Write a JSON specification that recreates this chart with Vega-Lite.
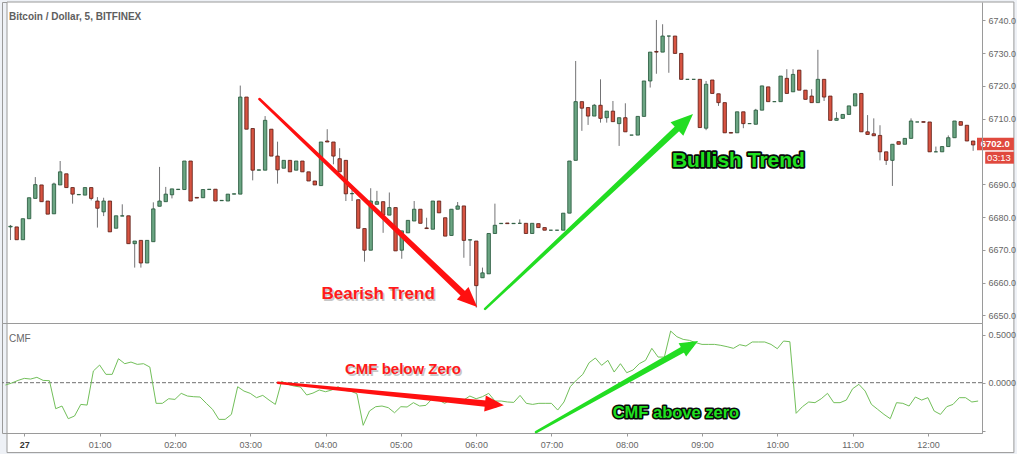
{
  "$schema": "https://vega.github.io/schema/vega-lite/v6.json",
  "background": "#eef1f6",
  "padding": {"left": 1, "top": 1, "right": 0, "bottom": 0},
  "bounds": "flush",
  "spacing": 0,
  "config": {
    "view": {"stroke": "#9a9a9a", "strokeWidth": 1},
    "font": "Liberation Sans",
    "text": {"font": "Liberation Sans"}
  },
  "datasets": {
    "bars": [
      {"t":-15,"o":6677.0,"h":6677.6,"l":6673.0,"c":6677.2,"cmf":-0.024},
      {"t":-10,"o":6677.0,"h":6677.0,"l":6673.1,"c":6673.1,"cmf":-0.003},
      {"t":-5,"o":6673.1,"h":6679.5,"l":6673.1,"c":6679.5,"cmf":0.024},
      {"t":0,"o":6679.5,"h":6685.9,"l":6679.5,"c":6685.9,"cmf":0.045},
      {"t":5,"o":6685.7,"h":6692.2,"l":6685.7,"c":6689.9,"cmf":0.038},
      {"t":10,"o":6689.8,"h":6689.8,"l":6684.7,"c":6684.7,"cmf":0.056},
      {"t":15,"o":6684.9,"h":6684.9,"l":6680.9,"c":6680.9,"cmf":0.024},
      {"t":20,"o":6681.0,"h":6690.5,"l":6681.0,"c":6690.1,"cmf":0.021},
      {"t":25,"o":6689.8,"h":6697.1,"l":6689.8,"c":6693.8,"cmf":-0.271},
      {"t":30,"o":6693.2,"h":6693.2,"l":6689.0,"c":6689.0,"cmf":-0.243},
      {"t":35,"o":6689.0,"h":6689.0,"l":6684.1,"c":6687.0,"cmf":-0.375},
      {"t":40,"o":6686.8,"h":6686.9,"l":6686.8,"c":6686.9,"cmf":-0.347},
      {"t":45,"o":6686.7,"h":6689.0,"l":6686.7,"c":6689.0,"cmf":-0.226},
      {"t":50,"o":6689.0,"h":6689.0,"l":6685.1,"c":6685.7,"cmf":-0.233},
      {"t":55,"o":6684.9,"h":6686.1,"l":6676.8,"c":6682.7,"cmf":0.122},
      {"t":60,"o":6681.6,"h":6685.9,"l":6680.3,"c":6684.9,"cmf":0.184},
      {"t":65,"o":6684.9,"h":6684.9,"l":6675.5,"c":6675.5,"cmf":0.087},
      {"t":70,"o":6676.6,"h":6680.4,"l":6676.6,"c":6680.4,"cmf":0.087},
      {"t":75,"o":6680.3,"h":6683.9,"l":6680.3,"c":6680.4,"cmf":0.250},
      {"t":80,"o":6680.4,"h":6680.4,"l":6671.9,"c":6671.9,"cmf":0.198},
      {"t":85,"o":6671.9,"h":6672.7,"l":6664.6,"c":6672.7,"cmf":0.215},
      {"t":90,"o":6672.9,"h":6672.9,"l":6664.6,"c":6666.0,"cmf":0.191},
      {"t":95,"o":6666.0,"h":6672.9,"l":6666.0,"c":6672.9,"cmf":0.198},
      {"t":100,"o":6672.5,"h":6684.5,"l":6672.5,"c":6682.5,"cmf":0.163},
      {"t":105,"o":6683.3,"h":6695.3,"l":6683.3,"c":6684.9,"cmf":-0.215},
      {"t":110,"o":6684.7,"h":6689.2,"l":6684.7,"c":6687.0,"cmf":-0.215},
      {"t":115,"o":6686.8,"h":6688.6,"l":6685.7,"c":6688.6,"cmf":-0.167},
      {"t":120,"o":6688.4,"h":6688.5,"l":6688.4,"c":6688.5,"cmf":-0.174},
      {"t":125,"o":6688.4,"h":6697.1,"l":6688.4,"c":6697.1,"cmf":-0.111},
      {"t":130,"o":6697.1,"h":6697.1,"l":6684.9,"c":6684.9,"cmf":-0.139},
      {"t":135,"o":6686.0,"h":6686.0,"l":6685.8,"c":6685.8,"cmf":-0.146},
      {"t":140,"o":6685.9,"h":6688.4,"l":6685.9,"c":6688.4,"cmf":-0.149},
      {"t":145,"o":6688.4,"h":6688.5,"l":6688.4,"c":6688.5,"cmf":-0.215},
      {"t":150,"o":6688.5,"h":6688.5,"l":6684.9,"c":6684.9,"cmf":-0.278},
      {"t":155,"o":6685.0,"h":6685.1,"l":6685.0,"c":6685.1,"cmf":-0.382},
      {"t":160,"o":6684.9,"h":6687.0,"l":6684.9,"c":6687.0,"cmf":-0.382},
      {"t":165,"o":6687.0,"h":6687.1,"l":6687.0,"c":6687.1,"cmf":-0.330},
      {"t":170,"o":6687.0,"h":6720.1,"l":6687.0,"c":6716.6,"cmf":-0.042},
      {"t":175,"o":6716.6,"h":6716.6,"l":6706.8,"c":6706.8,"cmf":-0.087},
      {"t":180,"o":6707.0,"h":6707.0,"l":6691.2,"c":6694.3,"cmf":-0.111},
      {"t":185,"o":6694.3,"h":6694.4,"l":6694.3,"c":6694.4,"cmf":-0.156},
      {"t":190,"o":6694.3,"h":6710.8,"l":6694.3,"c":6709.5,"cmf":-0.132},
      {"t":195,"o":6706.8,"h":6706.8,"l":6698.6,"c":6698.6,"cmf":-0.181},
      {"t":200,"o":6698.6,"h":6703.0,"l":6690.2,"c":6694.4,"cmf":-0.226},
      {"t":205,"o":6694.9,"h":6697.3,"l":6694.9,"c":6697.3,"cmf":0.014},
      {"t":210,"o":6697.3,"h":6697.3,"l":6693.8,"c":6693.8,"cmf":-0.017},
      {"t":215,"o":6694.3,"h":6697.1,"l":6694.3,"c":6697.1,"cmf":-0.035},
      {"t":220,"o":6697.1,"h":6697.1,"l":6693.8,"c":6693.8,"cmf":-0.045},
      {"t":225,"o":6693.8,"h":6693.8,"l":6691.0,"c":6691.0,"cmf":-0.128},
      {"t":230,"o":6691.0,"h":6691.0,"l":6689.8,"c":6689.8,"cmf":-0.108},
      {"t":235,"o":6689.6,"h":6702.9,"l":6689.6,"c":6702.9,"cmf":-0.076},
      {"t":240,"o":6703.2,"h":6706.8,"l":6702.9,"c":6702.9,"cmf":-0.094},
      {"t":245,"o":6702.9,"h":6702.9,"l":6696.1,"c":6698.6,"cmf":-0.076},
      {"t":250,"o":6697.8,"h":6701.0,"l":6693.8,"c":6693.8,"cmf":-0.042},
      {"t":255,"o":6697.3,"h":6697.3,"l":6684.9,"c":6687.1,"cmf":-0.080},
      {"t":260,"o":6687.1,"h":6689.0,"l":6684.9,"c":6687.2,"cmf":-0.087},
      {"t":265,"o":6685.3,"h":6685.3,"l":6676.6,"c":6676.6,"cmf":-0.115},
      {"t":270,"o":6676.5,"h":6676.5,"l":6666.4,"c":6669.9,"cmf":-0.444},
      {"t":275,"o":6669.9,"h":6688.8,"l":6669.9,"c":6684.9,"cmf":-0.295},
      {"t":280,"o":6683.9,"h":6688.0,"l":6683.9,"c":6684.7,"cmf":-0.250},
      {"t":285,"o":6684.7,"h":6684.7,"l":6675.2,"c":6680.6,"cmf":-0.243},
      {"t":290,"o":6680.6,"h":6687.5,"l":6680.6,"c":6682.9,"cmf":-0.260},
      {"t":295,"o":6682.9,"h":6682.9,"l":6669.7,"c":6669.7,"cmf":-0.313},
      {"t":300,"o":6669.9,"h":6675.8,"l":6667.3,"c":6675.8,"cmf":-0.250},
      {"t":305,"o":6675.2,"h":6679.0,"l":6675.2,"c":6679.0,"cmf":-0.253},
      {"t":310,"o":6678.8,"h":6684.9,"l":6678.8,"c":6682.4,"cmf":-0.208},
      {"t":315,"o":6682.4,"h":6682.4,"l":6678.1,"c":6678.1,"cmf":-0.243},
      {"t":320,"o":6676.7,"h":6679.8,"l":6676.5,"c":6676.5,"cmf":-0.236},
      {"t":325,"o":6676.3,"h":6684.9,"l":6676.3,"c":6684.9,"cmf":-0.167},
      {"t":330,"o":6684.9,"h":6684.9,"l":6681.3,"c":6681.3,"cmf":-0.181},
      {"t":335,"o":6679.8,"h":6679.8,"l":6674.2,"c":6674.2,"cmf":-0.215},
      {"t":340,"o":6674.4,"h":6682.4,"l":6674.4,"c":6682.4,"cmf":-0.174},
      {"t":345,"o":6682.4,"h":6684.6,"l":6682.4,"c":6683.4,"cmf":-0.201},
      {"t":350,"o":6683.4,"h":6683.4,"l":6667.6,"c":6672.9,"cmf":-0.181},
      {"t":355,"o":6673.0,"h":6673.1,"l":6665.1,"c":6673.1,"cmf":-0.139},
      {"t":360,"o":6672.7,"h":6672.7,"l":6652.4,"c":6659.1,"cmf":-0.167},
      {"t":365,"o":6661.5,"h":6664.6,"l":6661.5,"c":6663.0,"cmf":-0.146},
      {"t":370,"o":6662.7,"h":6675.0,"l":6662.7,"c":6675.0,"cmf":-0.111},
      {"t":375,"o":6675.0,"h":6684.1,"l":6675.0,"c":6677.5,"cmf":-0.191},
      {"t":380,"o":6678.0,"h":6678.1,"l":6678.0,"c":6678.1,"cmf":-0.191},
      {"t":385,"o":6678.2,"h":6678.2,"l":6678.0,"c":6678.0,"cmf":-0.201},
      {"t":390,"o":6678.0,"h":6678.1,"l":6678.0,"c":6678.1,"cmf":-0.205},
      {"t":395,"o":6678.1,"h":6679.3,"l":6678.1,"c":6678.1,"cmf":-0.132},
      {"t":400,"o":6678.1,"h":6678.1,"l":6675.0,"c":6675.0,"cmf":-0.215},
      {"t":405,"o":6675.0,"h":6678.1,"l":6675.0,"c":6678.1,"cmf":-0.226},
      {"t":410,"o":6678.0,"h":6678.0,"l":6676.8,"c":6676.8,"cmf":-0.215},
      {"t":415,"o":6676.8,"h":6676.8,"l":6676.0,"c":6676.0,"cmf":-0.215},
      {"t":420,"o":6676.0,"h":6676.0,"l":6676.0,"c":6676.0,"cmf":-0.215},
      {"t":425,"o":6676.0,"h":6676.0,"l":6676.0,"c":6676.0,"cmf":-0.285},
      {"t":430,"o":6676.0,"h":6681.2,"l":6676.0,"c":6681.2,"cmf":-0.201},
      {"t":435,"o":6681.2,"h":6697.1,"l":6681.2,"c":6697.1,"cmf":-0.042},
      {"t":440,"o":6697.3,"h":6727.6,"l":6697.3,"c":6715.2,"cmf":0.028},
      {"t":445,"o":6715.2,"h":6715.2,"l":6706.3,"c":6713.2,"cmf":0.087},
      {"t":450,"o":6713.4,"h":6713.4,"l":6708.1,"c":6710.8,"cmf":0.208},
      {"t":455,"o":6710.8,"h":6714.5,"l":6710.8,"c":6714.1,"cmf":0.257},
      {"t":460,"o":6714.1,"h":6722.0,"l":6708.8,"c":6710.1,"cmf":0.181},
      {"t":465,"o":6710.3,"h":6712.3,"l":6708.8,"c":6712.3,"cmf":0.233},
      {"t":470,"o":6712.3,"h":6715.4,"l":6709.1,"c":6709.1,"cmf":0.111},
      {"t":475,"o":6708.5,"h":6710.3,"l":6701.7,"c":6710.3,"cmf":0.198},
      {"t":480,"o":6710.3,"h":6714.7,"l":6706.0,"c":6706.0,"cmf":0.104},
      {"t":485,"o":6705.0,"h":6705.0,"l":6705.0,"c":6705.0,"cmf":0.132},
      {"t":490,"o":6705.0,"h":6710.7,"l":6705.0,"c":6710.7,"cmf":0.198},
      {"t":495,"o":6710.7,"h":6721.5,"l":6710.7,"c":6721.5,"cmf":0.233},
      {"t":500,"o":6721.5,"h":6730.3,"l":6719.5,"c":6730.3,"cmf":0.358},
      {"t":505,"o":6730.5,"h":6740.1,"l":6723.7,"c":6730.3,"cmf":0.267},
      {"t":510,"o":6730.3,"h":6738.8,"l":6730.3,"c":6735.2,"cmf":0.267},
      {"t":515,"o":6735.2,"h":6735.2,"l":6724.0,"c":6735.2,"cmf":0.538},
      {"t":520,"o":6735.2,"h":6735.2,"l":6729.9,"c":6729.9,"cmf":0.479},
      {"t":525,"o":6729.9,"h":6729.9,"l":6722.0,"c":6722.0,"cmf":0.451},
      {"t":530,"o":6722.0,"h":6722.0,"l":6722.0,"c":6722.0,"cmf":0.441},
      {"t":535,"o":6722.0,"h":6722.0,"l":6722.0,"c":6722.0,"cmf":0.417},
      {"t":540,"o":6722.0,"h":6722.0,"l":6707.3,"c":6707.3,"cmf":0.399},
      {"t":545,"o":6707.1,"h":6721.5,"l":6706.5,"c":6720.5,"cmf":0.399},
      {"t":550,"o":6721.8,"h":6721.8,"l":6717.7,"c":6717.7,"cmf":0.399},
      {"t":555,"o":6717.6,"h":6717.6,"l":6713.9,"c":6714.9,"cmf":0.389},
      {"t":560,"o":6714.9,"h":6714.9,"l":6705.7,"c":6705.7,"cmf":0.375},
      {"t":565,"o":6705.8,"h":6705.8,"l":6705.6,"c":6705.6,"cmf":0.358},
      {"t":570,"o":6705.7,"h":6712.1,"l":6705.7,"c":6712.1,"cmf":0.396},
      {"t":575,"o":6712.1,"h":6712.1,"l":6707.1,"c":6708.5,"cmf":0.382},
      {"t":580,"o":6708.5,"h":6708.5,"l":6708.5,"c":6708.5,"cmf":0.424},
      {"t":585,"o":6708.3,"h":6713.0,"l":6708.3,"c":6712.6,"cmf":0.424},
      {"t":590,"o":6712.6,"h":6720.0,"l":6712.6,"c":6720.0,"cmf":0.424},
      {"t":595,"o":6719.7,"h":6719.7,"l":6715.2,"c":6715.2,"cmf":0.399},
      {"t":600,"o":6715.2,"h":6715.2,"l":6715.2,"c":6715.2,"cmf":0.354},
      {"t":605,"o":6715.2,"h":6723.0,"l":6715.2,"c":6723.0,"cmf":0.434},
      {"t":610,"o":6722.3,"h":6725.1,"l":6717.7,"c":6717.7,"cmf":0.427},
      {"t":615,"o":6718.2,"h":6725.1,"l":6718.2,"c":6723.5,"cmf":-0.319},
      {"t":620,"o":6724.8,"h":6724.8,"l":6718.7,"c":6718.7,"cmf":-0.250},
      {"t":625,"o":6718.7,"h":6718.7,"l":6715.9,"c":6715.9,"cmf":-0.201},
      {"t":630,"o":6716.9,"h":6719.0,"l":6714.9,"c":6714.9,"cmf":-0.208},
      {"t":635,"o":6714.9,"h":6731.0,"l":6714.9,"c":6722.0,"cmf":-0.167},
      {"t":640,"o":6722.0,"h":6722.0,"l":6715.4,"c":6716.6,"cmf":-0.111},
      {"t":645,"o":6716.9,"h":6716.9,"l":6709.5,"c":6709.5,"cmf":-0.208},
      {"t":650,"o":6709.5,"h":6712.0,"l":6709.5,"c":6710.1,"cmf":-0.208},
      {"t":655,"o":6710.1,"h":6711.3,"l":6710.1,"c":6711.3,"cmf":-0.181},
      {"t":660,"o":6711.3,"h":6713.9,"l":6711.3,"c":6713.9,"cmf":-0.063},
      {"t":665,"o":6713.9,"h":6717.6,"l":6713.9,"c":6717.6,"cmf":-0.017},
      {"t":670,"o":6717.7,"h":6717.7,"l":6706.0,"c":6706.0,"cmf":-0.087},
      {"t":675,"o":6706.0,"h":6711.1,"l":6705.2,"c":6705.2,"cmf":-0.226},
      {"t":680,"o":6705.4,"h":6710.1,"l":6704.8,"c":6704.8,"cmf":-0.278},
      {"t":685,"o":6704.9,"h":6708.0,"l":6697.3,"c":6699.9,"cmf":-0.330},
      {"t":690,"o":6699.9,"h":6699.9,"l":6695.9,"c":6697.3,"cmf":-0.375},
      {"t":695,"o":6697.3,"h":6702.2,"l":6689.5,"c":6702.2,"cmf":-0.208},
      {"t":700,"o":6703.0,"h":6703.0,"l":6702.2,"c":6702.2,"cmf":-0.215},
      {"t":705,"o":6702.2,"h":6704.0,"l":6702.2,"c":6704.0,"cmf":-0.243},
      {"t":710,"o":6704.0,"h":6710.1,"l":6704.0,"c":6709.3,"cmf":-0.149},
      {"t":715,"o":6709.0,"h":6709.0,"l":6709.0,"c":6709.0,"cmf":-0.181},
      {"t":720,"o":6709.1,"h":6709.1,"l":6708.9,"c":6708.9,"cmf":-0.156},
      {"t":725,"o":6709.0,"h":6709.0,"l":6699.9,"c":6699.9,"cmf":-0.295},
      {"t":730,"o":6699.9,"h":6701.5,"l":6699.9,"c":6699.9,"cmf":-0.330},
      {"t":735,"o":6699.9,"h":6701.5,"l":6699.9,"c":6701.5,"cmf":-0.250},
      {"t":740,"o":6701.5,"h":6704.9,"l":6701.5,"c":6704.2,"cmf":-0.226},
      {"t":745,"o":6704.2,"h":6709.3,"l":6704.2,"c":6709.3,"cmf":-0.156},
      {"t":750,"o":6709.1,"h":6709.1,"l":6708.0,"c":6708.0,"cmf":-0.156},
      {"t":755,"o":6708.0,"h":6708.0,"l":6703.2,"c":6703.2,"cmf":-0.201},
      {"t":760,"o":6703.2,"h":6703.2,"l":6700.2,"c":6702.0,"cmf":-0.191}
    ],
    "one": [{}],
    "arrows": [
      {"kind":"bear","end":"a","t":185.4,"p":6716.0},
      {"kind":"bear","end":"b","t":354.9,"p":6654.7},
      {"kind":"bull","end":"a","t":367.1,"p":6652.0},
      {"kind":"bull","end":"b","t":528.0,"p":6709.15}
    ],
    "labels": [
      {"kind":"bear","label":"Bearish Trend","t":281.0,"p":6656.55},
      {"kind":"bull","label":"Bullish Trend","t":571.0,"p":6697.1}
    ],
    "cmfArrows": [
      {"kind":"bear","end":"a","t":202.1,"v":0.0},
      {"kind":"bear","end":"b","t":374.6,"v":-0.226},
      {"kind":"bull","end":"a","t":407.7,"v":-0.514},
      {"kind":"bull","end":"b","t":530.6,"v":0.388}
    ],
    "cmfLabels": [
      {"kind":"bear","label":"CMF below Zero","t":301.7,"v":0.14},
      {"kind":"bull","label":"CMF above zero","t":519.2,"v":-0.3125}
    ]
  },
  "vconcat": [
    {
      "width": 980,
      "height": 321,
      "title": {"text": "Bitcoin / Dollar, 5, BITFINEX", "anchor": "start", "frame": "group", "orient": "top", "baseline": "alphabetic", "offset": -18.3, "dx": 7, "dy": 10, "fontSize": 10, "fontWeight": "bold", "color": "#5e5e5e", "font": "Liberation Sans"},
      "layer": [
        {
          "data": {"name": "one"},
          "mark": {"type": "rect", "fill": "#ffffff", "stroke": "#9a9a9a", "strokeWidth": 1},
          "encoding": {
            "x": {"datum": -17.8, "type": "quantitative", "scale": {"domain": [-17.8, 763.1], "nice": false, "zero": false}, "axis": null},
            "x2": {"datum": 792.8},
            "y": {"datum": 6745.58, "type": "quantitative", "scale": {"domain": [6647.71, 6745.58], "nice": false, "zero": false},
              "axis": {"orient": "right", "title": null, "values": [6650, 6660, 6670, 6680, 6690, 6710, 6720, 6730, 6740], "format": ".1f", "grid": false, "domain": true, "domainColor": "#9a9a9a", "tickColor": "#9a9a9a", "tickSize": 3, "labelFontSize": 9, "labelColor": "#666666", "labelPadding": 3, "labelFont": "Liberation Sans", "zindex": 1}},
            "y2": {"datum": 6608.2}
          }
        },
        {
          "data": {"name": "bars"},
          "mark": {"type": "rule", "color": "#737375", "strokeWidth": 1},
          "encoding": {
            "x": {"field": "t", "type": "quantitative", "scale": {"domain": [-17.8, 763.1], "nice": false, "zero": false}, "axis": null},
            "y": {"field": "l", "type": "quantitative", "scale": {"domain": [6647.71, 6745.58], "nice": false, "zero": false},
              "axis": {"orient": "right", "title": null, "values": [6650, 6660, 6670, 6680, 6690, 6710, 6720, 6730, 6740], "format": ".1f", "grid": false, "domain": true, "domainColor": "#9a9a9a", "tickColor": "#9a9a9a", "tickSize": 3, "labelFontSize": 9, "labelColor": "#666666", "labelPadding": 3, "labelFont": "Liberation Sans", "zindex": 1}},
            "y2": {"field": "h"}
          }
        },
        {
          "data": {"name": "bars"},
          "mark": {"type": "bar", "size": 3.4, "strokeWidth": 0.8},
          "encoding": {
            "x": {"field": "t", "type": "quantitative", "scale": {"domain": [-17.8, 763.1], "nice": false, "zero": false}, "axis": null},
            "y": {"field": "o", "type": "quantitative", "scale": {"domain": [6647.71, 6745.58], "nice": false, "zero": false},
              "axis": {"orient": "right", "title": null, "values": [6650, 6660, 6670, 6680, 6690, 6710, 6720, 6730, 6740], "format": ".1f", "grid": false, "domain": true, "domainColor": "#9a9a9a", "tickColor": "#9a9a9a", "tickSize": 3, "labelFontSize": 9, "labelColor": "#666666", "labelPadding": 3, "labelFont": "Liberation Sans", "zindex": 1}},
            "y2": {"field": "c"},
            "fill": {"condition": {"test": "datum.c >= datum.o", "value": "#6ba583"}, "value": "#d75442"},
            "stroke": {"condition": {"test": "datum.c >= datum.o", "value": "#225437"}, "value": "#5b1a13"}
          }
        },
        {
          "data": {"name": "one"},
          "mark": {"type": "rect", "fill": "#e0493e"},
          "encoding": {
            "x": {"datum": 763.1, "type": "quantitative", "scale": {"domain": [-17.8, 763.1], "nice": false, "zero": false}, "axis": null},
            "x2": {"datum": 792.8},
            "y": {"datum": 6704.2, "type": "quantitative", "scale": {"domain": [6647.71, 6745.58], "nice": false, "zero": false},
              "axis": {"orient": "right", "title": null, "values": [6650, 6660, 6670, 6680, 6690, 6710, 6720, 6730, 6740], "format": ".1f", "grid": false, "domain": true, "domainColor": "#9a9a9a", "tickColor": "#9a9a9a", "tickSize": 3, "labelFontSize": 9, "labelColor": "#666666", "labelPadding": 3, "labelFont": "Liberation Sans", "zindex": 1}},
            "y2": {"datum": 6700.36}
          }
        },
        {
          "data": {"name": "one"},
          "mark": {"type": "rect", "fill": "#e0493e"},
          "encoding": {
            "x": {"datum": 769.7, "type": "quantitative", "scale": {"domain": [-17.8, 763.1], "nice": false, "zero": false}, "axis": null},
            "x2": {"datum": 792.8},
            "y": {"datum": 6699.94, "type": "quantitative", "scale": {"domain": [6647.71, 6745.58], "nice": false, "zero": false},
              "axis": {"orient": "right", "title": null, "values": [6650, 6660, 6670, 6680, 6690, 6710, 6720, 6730, 6740], "format": ".1f", "grid": false, "domain": true, "domainColor": "#9a9a9a", "tickColor": "#9a9a9a", "tickSize": 3, "labelFontSize": 9, "labelColor": "#666666", "labelPadding": 3, "labelFont": "Liberation Sans", "zindex": 1}},
            "y2": {"datum": 6696.28}
          }
        },
        {
          "data": {"name": "one"},
          "mark": {"type": "text", "color": "#ffffff", "fontSize": 9.5, "fontWeight": "bold", "align": "center", "baseline": "middle"},
          "encoding": {
            "x": {"datum": 777.8, "type": "quantitative", "scale": {"domain": [-17.8, 763.1], "nice": false, "zero": false}, "axis": null},
            "y": {"datum": 6702.3, "type": "quantitative", "scale": {"domain": [6647.71, 6745.58], "nice": false, "zero": false},
              "axis": {"orient": "right", "title": null, "values": [6650, 6660, 6670, 6680, 6690, 6710, 6720, 6730, 6740], "format": ".1f", "grid": false, "domain": true, "domainColor": "#9a9a9a", "tickColor": "#9a9a9a", "tickSize": 3, "labelFontSize": 9, "labelColor": "#666666", "labelPadding": 3, "labelFont": "Liberation Sans", "zindex": 1}},
            "text": {"value": "6702.0"}
          }
        },
        {
          "data": {"name": "one"},
          "mark": {"type": "text", "color": "#ffffff", "fontSize": 9.5, "align": "center", "baseline": "middle"},
          "encoding": {
            "x": {"datum": 780.8, "type": "quantitative", "scale": {"domain": [-17.8, 763.1], "nice": false, "zero": false}, "axis": null},
            "y": {"datum": 6698.1, "type": "quantitative", "scale": {"domain": [6647.71, 6745.58], "nice": false, "zero": false},
              "axis": {"orient": "right", "title": null, "values": [6650, 6660, 6670, 6680, 6690, 6710, 6720, 6730, 6740], "format": ".1f", "grid": false, "domain": true, "domainColor": "#9a9a9a", "tickColor": "#9a9a9a", "tickSize": 3, "labelFontSize": 9, "labelColor": "#666666", "labelPadding": 3, "labelFont": "Liberation Sans", "zindex": 1}},
            "text": {"value": "03:13"}
          }
        },
        {
          "data": {"name": "arrows"},
          "mark": {"type": "trail"},
          "encoding": {
            "x": {"field": "t", "type": "quantitative", "scale": {"domain": [-17.8, 763.1], "nice": false, "zero": false}, "axis": null},
            "y": {"field": "p", "type": "quantitative", "scale": {"domain": [6647.71, 6745.58], "nice": false, "zero": false},
              "axis": {"orient": "right", "title": null, "values": [6650, 6660, 6670, 6680, 6690, 6710, 6720, 6730, 6740], "format": ".1f", "grid": false, "domain": true, "domainColor": "#9a9a9a", "tickColor": "#9a9a9a", "tickSize": 3, "labelFontSize": 9, "labelColor": "#666666", "labelPadding": 3, "labelFont": "Liberation Sans", "zindex": 1}},
            "size": {"field": "end", "type": "ordinal", "scale": {"domain": ["a", "b"], "range": [2.5, 6.5]}, "legend": null},
            "color": {"field": "kind", "type": "nominal", "scale": {"domain": ["bear", "bull"], "range": ["#ff1010", "#22dd22"]}, "legend": null}
          }
        },
        {
          "data": {"name": "arrows"},
          "transform": [{"filter": "datum.end == 'b' && datum.kind == 'bear'"}],
          "mark": {"type": "point", "filled": true, "opacity": 1, "color": "#ff1010", "shape": "M0,-1L-0.85,1L0.85,1Z", "size": 400, "angle": 133.4},
          "encoding": {
            "x": {"field": "t", "type": "quantitative", "scale": {"domain": [-17.8, 763.1], "nice": false, "zero": false}, "axis": null},
            "y": {"field": "p", "type": "quantitative", "scale": {"domain": [6647.71, 6745.58], "nice": false, "zero": false},
              "axis": {"orient": "right", "title": null, "values": [6650, 6660, 6670, 6680, 6690, 6710, 6720, 6730, 6740], "format": ".1f", "grid": false, "domain": true, "domainColor": "#9a9a9a", "tickColor": "#9a9a9a", "tickSize": 3, "labelFontSize": 9, "labelColor": "#666666", "labelPadding": 3, "labelFont": "Liberation Sans", "zindex": 1}}
          }
        },
        {
          "data": {"name": "arrows"},
          "transform": [{"filter": "datum.end == 'b' && datum.kind == 'bull'"}],
          "mark": {"type": "point", "filled": true, "opacity": 1, "color": "#22dd22", "shape": "M0,-1L-0.85,1L0.85,1Z", "size": 484, "angle": 47},
          "encoding": {
            "x": {"field": "t", "type": "quantitative", "scale": {"domain": [-17.8, 763.1], "nice": false, "zero": false}, "axis": null},
            "y": {"field": "p", "type": "quantitative", "scale": {"domain": [6647.71, 6745.58], "nice": false, "zero": false},
              "axis": {"orient": "right", "title": null, "values": [6650, 6660, 6670, 6680, 6690, 6710, 6720, 6730, 6740], "format": ".1f", "grid": false, "domain": true, "domainColor": "#9a9a9a", "tickColor": "#9a9a9a", "tickSize": 3, "labelFontSize": 9, "labelColor": "#666666", "labelPadding": 3, "labelFont": "Liberation Sans", "zindex": 1}}
          }
        },
        {
          "data": {"name": "labels"},
          "transform": [{"filter": "datum.kind == 'bear'"}],
          "mark": {"type": "text", "color": "#b0b0b0", "opacity": 0.7, "fontSize": 17, "fontWeight": "bold", "align": "center", "baseline": "middle", "dx": 1.5, "dy": 1.5},
          "encoding": {
            "x": {"field": "t", "type": "quantitative", "scale": {"domain": [-17.8, 763.1], "nice": false, "zero": false}, "axis": null},
            "y": {"field": "p", "type": "quantitative", "scale": {"domain": [6647.71, 6745.58], "nice": false, "zero": false},
              "axis": {"orient": "right", "title": null, "values": [6650, 6660, 6670, 6680, 6690, 6710, 6720, 6730, 6740], "format": ".1f", "grid": false, "domain": true, "domainColor": "#9a9a9a", "tickColor": "#9a9a9a", "tickSize": 3, "labelFontSize": 9, "labelColor": "#666666", "labelPadding": 3, "labelFont": "Liberation Sans", "zindex": 1}},
            "text": {"field": "label"}
          }
        },
        {
          "data": {"name": "labels"},
          "transform": [{"filter": "datum.kind == 'bear'"}],
          "mark": {"type": "text", "color": "#ff1a1a", "fontSize": 17, "fontWeight": "bold", "align": "center", "baseline": "middle"},
          "encoding": {
            "x": {"field": "t", "type": "quantitative", "scale": {"domain": [-17.8, 763.1], "nice": false, "zero": false}, "axis": null},
            "y": {"field": "p", "type": "quantitative", "scale": {"domain": [6647.71, 6745.58], "nice": false, "zero": false},
              "axis": {"orient": "right", "title": null, "values": [6650, 6660, 6670, 6680, 6690, 6710, 6720, 6730, 6740], "format": ".1f", "grid": false, "domain": true, "domainColor": "#9a9a9a", "tickColor": "#9a9a9a", "tickSize": 3, "labelFontSize": 9, "labelColor": "#666666", "labelPadding": 3, "labelFont": "Liberation Sans", "zindex": 1}},
            "text": {"field": "label"}
          }
        },
        {
          "data": {"name": "labels"},
          "transform": [{"filter": "datum.kind == 'bull'"}],
          "mark": {"type": "text", "color": "#0a0a0a", "stroke": "#0a0a0a", "strokeWidth": 3.5, "strokeJoin": "round", "fontSize": 21, "fontWeight": "bold", "align": "center", "baseline": "middle"},
          "encoding": {
            "x": {"field": "t", "type": "quantitative", "scale": {"domain": [-17.8, 763.1], "nice": false, "zero": false}, "axis": null},
            "y": {"field": "p", "type": "quantitative", "scale": {"domain": [6647.71, 6745.58], "nice": false, "zero": false},
              "axis": {"orient": "right", "title": null, "values": [6650, 6660, 6670, 6680, 6690, 6710, 6720, 6730, 6740], "format": ".1f", "grid": false, "domain": true, "domainColor": "#9a9a9a", "tickColor": "#9a9a9a", "tickSize": 3, "labelFontSize": 9, "labelColor": "#666666", "labelPadding": 3, "labelFont": "Liberation Sans", "zindex": 1}},
            "text": {"field": "label"}
          }
        },
        {
          "data": {"name": "labels"},
          "transform": [{"filter": "datum.kind == 'bull'"}],
          "mark": {"type": "text", "color": "#1fe01f", "fontSize": 21, "fontWeight": "bold", "align": "center", "baseline": "middle"},
          "encoding": {
            "x": {"field": "t", "type": "quantitative", "scale": {"domain": [-17.8, 763.1], "nice": false, "zero": false}, "axis": null},
            "y": {"field": "p", "type": "quantitative", "scale": {"domain": [6647.71, 6745.58], "nice": false, "zero": false},
              "axis": {"orient": "right", "title": null, "values": [6650, 6660, 6670, 6680, 6690, 6710, 6720, 6730, 6740], "format": ".1f", "grid": false, "domain": true, "domainColor": "#9a9a9a", "tickColor": "#9a9a9a", "tickSize": 3, "labelFontSize": 9, "labelColor": "#666666", "labelPadding": 3, "labelFont": "Liberation Sans", "zindex": 1}},
            "text": {"field": "label"}
          }
        }
      ]
    },
    {
      "width": 980,
      "height": 110,
      "title": {"text": "CMF", "anchor": "start", "frame": "group", "orient": "top", "baseline": "alphabetic", "offset": -19, "dx": 7, "dy": 10, "fontSize": 10, "fontWeight": "normal", "color": "#666666", "font": "Liberation Sans"},
      "layer": [
        {
          "data": {"name": "one"},
          "mark": {"type": "rule", "color": "#6f6f6f", "strokeWidth": 1, "strokeDash": [4, 2]},
          "encoding": {
            "y": {"datum": 0, "type": "quantitative", "scale": {"domain": [-0.524, 0.6219], "nice": false, "zero": false},
              "axis": {"orient": "right", "title": null, "values": [0.5, 0, -0.5], "labelExpr": "datum.value < -0.4 ? '' : format(datum.value, '.4f')", "grid": false, "domain": true, "domainColor": "#9a9a9a", "tickColor": "#9a9a9a", "tickSize": 3, "labelFontSize": 9, "labelColor": "#666666", "labelPadding": 3, "labelFont": "Liberation Sans", "zindex": 1}}
          }
        },
        {
          "data": {"name": "bars"},
          "mark": {"type": "line", "color": "#72bf5a", "strokeWidth": 1},
          "encoding": {
            "x": {"field": "t", "type": "quantitative", "scale": {"domain": [-17.8, 763.1], "nice": false, "zero": false},
              "axis": {"title": null, "values": [0, 60, 120, 180, 240, 300, 360, 420, 480, 540, 600, 660, 720], "labelExpr": "datum.value == 0 ? '27' : (datum.value < 600 ? '0' : '') + (datum.value / 60) + ':00'", "grid": false, "domain": false, "tickColor": "#9a9a9a", "tickSize": 3, "labelFontSize": 9, "labelFont": "Liberation Sans", "labelPadding": 4, "labelColor": {"condition": {"test": "datum.value == 0", "value": "#333333"}, "value": "#666666"}, "labelFontWeight": {"condition": {"test": "datum.value == 0", "value": "bold"}, "value": "normal"}}},
            "y": {"field": "cmf", "type": "quantitative", "scale": {"domain": [-0.524, 0.6219], "nice": false, "zero": false},
              "axis": {"orient": "right", "title": null, "values": [0.5, 0, -0.5], "labelExpr": "datum.value < -0.4 ? '' : format(datum.value, '.4f')", "grid": false, "domain": true, "domainColor": "#9a9a9a", "tickColor": "#9a9a9a", "tickSize": 3, "labelFontSize": 9, "labelColor": "#666666", "labelPadding": 3, "labelFont": "Liberation Sans", "zindex": 1}}
          }
        },
        {
          "data": {"name": "cmfArrows"},
          "mark": {"type": "trail"},
          "encoding": {
            "x": {"field": "t", "type": "quantitative", "scale": {"domain": [-17.8, 763.1], "nice": false, "zero": false},
              "axis": {"title": null, "values": [0, 60, 120, 180, 240, 300, 360, 420, 480, 540, 600, 660, 720], "labelExpr": "datum.value == 0 ? '27' : (datum.value < 600 ? '0' : '') + (datum.value / 60) + ':00'", "grid": false, "domain": false, "tickColor": "#9a9a9a", "tickSize": 3, "labelFontSize": 9, "labelFont": "Liberation Sans", "labelPadding": 4, "labelColor": {"condition": {"test": "datum.value == 0", "value": "#333333"}, "value": "#666666"}, "labelFontWeight": {"condition": {"test": "datum.value == 0", "value": "bold"}, "value": "normal"}}},
            "y": {"field": "v", "type": "quantitative", "scale": {"domain": [-0.524, 0.6219], "nice": false, "zero": false},
              "axis": {"orient": "right", "title": null, "values": [0.5, 0, -0.5], "labelExpr": "datum.value < -0.4 ? '' : format(datum.value, '.4f')", "grid": false, "domain": true, "domainColor": "#9a9a9a", "tickColor": "#9a9a9a", "tickSize": 3, "labelFontSize": 9, "labelColor": "#666666", "labelPadding": 3, "labelFont": "Liberation Sans", "zindex": 1}},
            "size": {"field": "end", "type": "ordinal", "scale": {"domain": ["a", "b"], "range": [2, 5.5]}, "legend": null},
            "color": {"field": "kind", "type": "nominal", "scale": {"domain": ["bear", "bull"], "range": ["#ff1010", "#22dd22"]}, "legend": null}
          }
        },
        {
          "data": {"name": "cmfArrows"},
          "transform": [{"filter": "datum.end == 'b' && datum.kind == 'bear'"}],
          "mark": {"type": "point", "filled": true, "opacity": 1, "color": "#ff1010", "shape": "M0,-1L-0.85,1L0.85,1Z", "size": 361, "angle": 95.7},
          "encoding": {
            "x": {"field": "t", "type": "quantitative", "scale": {"domain": [-17.8, 763.1], "nice": false, "zero": false},
              "axis": {"title": null, "values": [0, 60, 120, 180, 240, 300, 360, 420, 480, 540, 600, 660, 720], "labelExpr": "datum.value == 0 ? '27' : (datum.value < 600 ? '0' : '') + (datum.value / 60) + ':00'", "grid": false, "domain": false, "tickColor": "#9a9a9a", "tickSize": 3, "labelFontSize": 9, "labelFont": "Liberation Sans", "labelPadding": 4, "labelColor": {"condition": {"test": "datum.value == 0", "value": "#333333"}, "value": "#666666"}, "labelFontWeight": {"condition": {"test": "datum.value == 0", "value": "bold"}, "value": "normal"}}},
            "y": {"field": "v", "type": "quantitative", "scale": {"domain": [-0.524, 0.6219], "nice": false, "zero": false},
              "axis": {"orient": "right", "title": null, "values": [0.5, 0, -0.5], "labelExpr": "datum.value < -0.4 ? '' : format(datum.value, '.4f')", "grid": false, "domain": true, "domainColor": "#9a9a9a", "tickColor": "#9a9a9a", "tickSize": 3, "labelFontSize": 9, "labelColor": "#666666", "labelPadding": 3, "labelFont": "Liberation Sans", "zindex": 1}}
          }
        },
        {
          "data": {"name": "cmfArrows"},
          "transform": [{"filter": "datum.end == 'b' && datum.kind == 'bull'"}],
          "mark": {"type": "point", "filled": true, "opacity": 1, "color": "#22dd22", "shape": "M0,-1L-0.85,1L0.85,1Z", "size": 324, "angle": 60.7},
          "encoding": {
            "x": {"field": "t", "type": "quantitative", "scale": {"domain": [-17.8, 763.1], "nice": false, "zero": false},
              "axis": {"title": null, "values": [0, 60, 120, 180, 240, 300, 360, 420, 480, 540, 600, 660, 720], "labelExpr": "datum.value == 0 ? '27' : (datum.value < 600 ? '0' : '') + (datum.value / 60) + ':00'", "grid": false, "domain": false, "tickColor": "#9a9a9a", "tickSize": 3, "labelFontSize": 9, "labelFont": "Liberation Sans", "labelPadding": 4, "labelColor": {"condition": {"test": "datum.value == 0", "value": "#333333"}, "value": "#666666"}, "labelFontWeight": {"condition": {"test": "datum.value == 0", "value": "bold"}, "value": "normal"}}},
            "y": {"field": "v", "type": "quantitative", "scale": {"domain": [-0.524, 0.6219], "nice": false, "zero": false},
              "axis": {"orient": "right", "title": null, "values": [0.5, 0, -0.5], "labelExpr": "datum.value < -0.4 ? '' : format(datum.value, '.4f')", "grid": false, "domain": true, "domainColor": "#9a9a9a", "tickColor": "#9a9a9a", "tickSize": 3, "labelFontSize": 9, "labelColor": "#666666", "labelPadding": 3, "labelFont": "Liberation Sans", "zindex": 1}}
          }
        },
        {
          "data": {"name": "cmfLabels"},
          "transform": [{"filter": "datum.kind == 'bear'"}],
          "mark": {"type": "text", "color": "#b0b0b0", "opacity": 0.7, "fontSize": 15, "fontWeight": "bold", "align": "center", "baseline": "middle", "dx": 1.5, "dy": 1.5},
          "encoding": {
            "x": {"field": "t", "type": "quantitative", "scale": {"domain": [-17.8, 763.1], "nice": false, "zero": false},
              "axis": {"title": null, "values": [0, 60, 120, 180, 240, 300, 360, 420, 480, 540, 600, 660, 720], "labelExpr": "datum.value == 0 ? '27' : (datum.value < 600 ? '0' : '') + (datum.value / 60) + ':00'", "grid": false, "domain": false, "tickColor": "#9a9a9a", "tickSize": 3, "labelFontSize": 9, "labelFont": "Liberation Sans", "labelPadding": 4, "labelColor": {"condition": {"test": "datum.value == 0", "value": "#333333"}, "value": "#666666"}, "labelFontWeight": {"condition": {"test": "datum.value == 0", "value": "bold"}, "value": "normal"}}},
            "y": {"field": "v", "type": "quantitative", "scale": {"domain": [-0.524, 0.6219], "nice": false, "zero": false},
              "axis": {"orient": "right", "title": null, "values": [0.5, 0, -0.5], "labelExpr": "datum.value < -0.4 ? '' : format(datum.value, '.4f')", "grid": false, "domain": true, "domainColor": "#9a9a9a", "tickColor": "#9a9a9a", "tickSize": 3, "labelFontSize": 9, "labelColor": "#666666", "labelPadding": 3, "labelFont": "Liberation Sans", "zindex": 1}},
            "text": {"field": "label"}
          }
        },
        {
          "data": {"name": "cmfLabels"},
          "transform": [{"filter": "datum.kind == 'bear'"}],
          "mark": {"type": "text", "color": "#ff1a1a", "fontSize": 15, "fontWeight": "bold", "align": "center", "baseline": "middle"},
          "encoding": {
            "x": {"field": "t", "type": "quantitative", "scale": {"domain": [-17.8, 763.1], "nice": false, "zero": false},
              "axis": {"title": null, "values": [0, 60, 120, 180, 240, 300, 360, 420, 480, 540, 600, 660, 720], "labelExpr": "datum.value == 0 ? '27' : (datum.value < 600 ? '0' : '') + (datum.value / 60) + ':00'", "grid": false, "domain": false, "tickColor": "#9a9a9a", "tickSize": 3, "labelFontSize": 9, "labelFont": "Liberation Sans", "labelPadding": 4, "labelColor": {"condition": {"test": "datum.value == 0", "value": "#333333"}, "value": "#666666"}, "labelFontWeight": {"condition": {"test": "datum.value == 0", "value": "bold"}, "value": "normal"}}},
            "y": {"field": "v", "type": "quantitative", "scale": {"domain": [-0.524, 0.6219], "nice": false, "zero": false},
              "axis": {"orient": "right", "title": null, "values": [0.5, 0, -0.5], "labelExpr": "datum.value < -0.4 ? '' : format(datum.value, '.4f')", "grid": false, "domain": true, "domainColor": "#9a9a9a", "tickColor": "#9a9a9a", "tickSize": 3, "labelFontSize": 9, "labelColor": "#666666", "labelPadding": 3, "labelFont": "Liberation Sans", "zindex": 1}},
            "text": {"field": "label"}
          }
        },
        {
          "data": {"name": "cmfLabels"},
          "transform": [{"filter": "datum.kind == 'bull'"}],
          "mark": {"type": "text", "color": "#0a0a0a", "stroke": "#0a0a0a", "strokeWidth": 3.2, "strokeJoin": "round", "fontSize": 16.5, "fontWeight": "bold", "align": "center", "baseline": "middle"},
          "encoding": {
            "x": {"field": "t", "type": "quantitative", "scale": {"domain": [-17.8, 763.1], "nice": false, "zero": false},
              "axis": {"title": null, "values": [0, 60, 120, 180, 240, 300, 360, 420, 480, 540, 600, 660, 720], "labelExpr": "datum.value == 0 ? '27' : (datum.value < 600 ? '0' : '') + (datum.value / 60) + ':00'", "grid": false, "domain": false, "tickColor": "#9a9a9a", "tickSize": 3, "labelFontSize": 9, "labelFont": "Liberation Sans", "labelPadding": 4, "labelColor": {"condition": {"test": "datum.value == 0", "value": "#333333"}, "value": "#666666"}, "labelFontWeight": {"condition": {"test": "datum.value == 0", "value": "bold"}, "value": "normal"}}},
            "y": {"field": "v", "type": "quantitative", "scale": {"domain": [-0.524, 0.6219], "nice": false, "zero": false},
              "axis": {"orient": "right", "title": null, "values": [0.5, 0, -0.5], "labelExpr": "datum.value < -0.4 ? '' : format(datum.value, '.4f')", "grid": false, "domain": true, "domainColor": "#9a9a9a", "tickColor": "#9a9a9a", "tickSize": 3, "labelFontSize": 9, "labelColor": "#666666", "labelPadding": 3, "labelFont": "Liberation Sans", "zindex": 1}},
            "text": {"field": "label"}
          }
        },
        {
          "data": {"name": "cmfLabels"},
          "transform": [{"filter": "datum.kind == 'bull'"}],
          "mark": {"type": "text", "color": "#1fe01f", "fontSize": 16.5, "fontWeight": "bold", "align": "center", "baseline": "middle"},
          "encoding": {
            "x": {"field": "t", "type": "quantitative", "scale": {"domain": [-17.8, 763.1], "nice": false, "zero": false},
              "axis": {"title": null, "values": [0, 60, 120, 180, 240, 300, 360, 420, 480, 540, 600, 660, 720], "labelExpr": "datum.value == 0 ? '27' : (datum.value < 600 ? '0' : '') + (datum.value / 60) + ':00'", "grid": false, "domain": false, "tickColor": "#9a9a9a", "tickSize": 3, "labelFontSize": 9, "labelFont": "Liberation Sans", "labelPadding": 4, "labelColor": {"condition": {"test": "datum.value == 0", "value": "#333333"}, "value": "#666666"}, "labelFontWeight": {"condition": {"test": "datum.value == 0", "value": "bold"}, "value": "normal"}}},
            "y": {"field": "v", "type": "quantitative", "scale": {"domain": [-0.524, 0.6219], "nice": false, "zero": false},
              "axis": {"orient": "right", "title": null, "values": [0.5, 0, -0.5], "labelExpr": "datum.value < -0.4 ? '' : format(datum.value, '.4f')", "grid": false, "domain": true, "domainColor": "#9a9a9a", "tickColor": "#9a9a9a", "tickSize": 3, "labelFontSize": 9, "labelColor": "#666666", "labelPadding": 3, "labelFont": "Liberation Sans", "zindex": 1}},
            "text": {"field": "label"}
          }
        }
      ]
    }
  ]
}
